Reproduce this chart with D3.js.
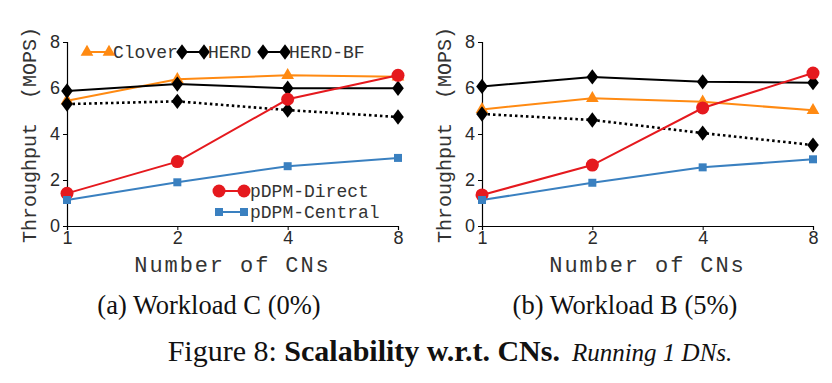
<!DOCTYPE html>
<html>
<head>
<meta charset="utf-8">
<script src="https://cdnjs.cloudflare.com/ajax/libs/d3/7.8.5/d3.min.js"></script>
<style>
  body { margin: 0; background: #fff; }
  svg { display: block; }
  .tick text { font-family: "Liberation Sans", Arial, sans-serif; font-size: 18px; fill: #2a2a2a; }
  .mono { font-family: "Liberation Mono", "Courier New", monospace; fill: #333; white-space: pre; }
  .serif { font-family: "Liberation Serif", "Times New Roman", serif; fill: #111; }
</style>
</head>
<body>
<script>
// x categories: number of CNs
var cns = [1, 2, 4, 8];
var yTicks = [0, 2, 4, 6, 8];

// Workload C (0%)
var cClover = [5.45, 6.38, 6.55, 6.49];
var cHerd = [5.87, 6.17, 5.99, 5.99];
var cHerdBf = [5.30, 5.42, 5.04, 4.74];
var cDirect = [1.42, 2.80, 5.51, 6.55];
var cCentral = [1.13, 1.90, 2.60, 2.96];

// Workload B (5%)
var bClover = [5.07, 5.55, 5.40, 5.03];
var bHerd = [6.07, 6.48, 6.27, 6.23];
var bHerdBf = [4.87, 4.61, 4.04, 3.52];
var bDirect = [1.35, 2.65, 5.13, 6.65];
var bCentral = [1.13, 1.88, 2.55, 2.90];

var orange = '#ff8a12', red = '#e5191e', blue = '#3a80c0', black = '#000';

var svg = d3.select('body').append('svg')
    .attr('width', 832)
    .attr('height', 383);

function marker(g, shape, color, x, y) {
    if (shape === 'circle') {
        g.append('circle').attr('cx', x).attr('cy', y).attr('r', 6.5).attr('fill', color);
    } else {
        var sym = shape === 'triangle' ? d3.symbolTriangle : (shape === 'diamond' ? d3.symbolDiamond : d3.symbolSquare);
        var size = shape === 'triangle' ? 70 : (shape === 'diamond' ? 75 : 64);
        g.append('path')
            .attr('d', d3.symbol().type(sym).size(size))
            .attr('transform', shape === 'diamond'
                ? 'translate(' + x + ',' + y + ') scale(1.25,0.95)'
                : 'translate(' + x + ',' + y + ')')
            .attr('fill', color);
    }
}

function panel(x0, x1, series, caption, captionX, showLegend) {
    var x = d3.scalePoint().domain(cns).range([x0, x1]);
    var y = d3.scaleLinear().domain([0, 8]).range([226, 42]);
    var g = svg.append('g');

    g.append('g')
        .attr('transform', 'translate(' + x0 + ',0)')
        .call(d3.axisLeft(y).tickValues(yTicks).tickSize(4).tickPadding(3))
        .call(function (a) { a.select('.domain').attr('stroke', '#000').attr('stroke-width', 1.2); })
        .call(function (a) { a.selectAll('.tick line').attr('stroke', '#000'); });

    g.append('g')
        .attr('transform', 'translate(0,226)')
        .call(d3.axisBottom(x).tickSize(4).tickPadding(3))
        .call(function (a) { a.select('.domain').attr('stroke', '#000').attr('stroke-width', 1.2); })
        .call(function (a) { a.selectAll('.tick line').attr('stroke', '#000'); })
        .call(function (a) { a.selectAll('.tick text').attr('dy', '0.6em'); });

    var line = d3.line()
        .x(function (d, i) { return x(cns[i]); })
        .y(function (d) { return y(d); });

    series.forEach(function (s) {
        g.append('path')
            .datum(s.values)
            .attr('d', line)
            .attr('fill', 'none')
            .attr('stroke', s.color)
            .attr('stroke-width', s.dash ? 2.6 : 2)
            .attr('stroke-dasharray', s.dash ? '2.5,3' : null);
        s.values.forEach(function (v, i) {
            marker(g, s.shape, s.color, x(cns[i]), y(v));
        });
    });

    // axis titles
    g.append('text')
        .attr('class', 'mono')
        .attr('xml:space', 'preserve')
        .attr('transform', 'translate(' + (x0 - 38) + ',135) rotate(-90)')
        .attr('text-anchor', 'middle')
        .attr('dy', '0.35em')
        .style('font-size', '20px')
        .text('Throughput  (MOPS)');

    g.append('text')
        .attr('class', 'mono')
        .attr('x', (x0 + x1) / 2)
        .attr('y', 272)
        .attr('text-anchor', 'middle')
        .style('font-size', '22px')
        .style('letter-spacing', '1.9px')
        .text('Number of CNs');

    g.append('text')
        .attr('class', 'serif')
        .attr('x', captionX)
        .attr('y', 314)
        .attr('text-anchor', 'middle')
        .style('font-size', '26.5px')
        .text(caption);

    if (showLegend) {
        var top = [series[0], series[1], series[2]];
        var lx = [87, 182, 263];
        top.forEach(function (s, i) {
            var lg = g.append('g');
            lg.append('line').attr('x1', lx[i]).attr('x2', lx[i] + 22).attr('y1', 52).attr('y2', 52)
                .attr('stroke', s.color).attr('stroke-width', 2);
            marker(lg, s.shape, s.color, lx[i], 52);
            marker(lg, s.shape, s.color, lx[i] + 22, 52);
            lg.append('text').attr('class', 'mono').attr('x', lx[i] + 26).attr('y', 58)
                .style('font-size', '18px').text(s.name);
        });
        var bottom = [series[3], series[4]];
        bottom.forEach(function (s, i) {
            var yy = 191 + i * 21;
            var lg = g.append('g');
            lg.append('line').attr('x1', 219).attr('x2', 244).attr('y1', yy).attr('y2', yy)
                .attr('stroke', s.color).attr('stroke-width', 2);
            marker(lg, s.shape, s.color, 219, yy);
            marker(lg, s.shape, s.color, 244, yy);
            lg.append('text').attr('class', 'mono').attr('x', 250).attr('y', yy + 6)
                .style('font-size', '18px').text(s.name);
        });
    }
}

function seriesFor(clover, herd, herdBf, direct, central) {
    return [
        { name: 'Clover', values: clover, color: orange, shape: 'triangle' },
        { name: 'HERD', values: herd, color: black, shape: 'diamond' },
        { name: 'HERD-BF', values: herdBf, color: black, shape: 'diamond', dash: true },
        { name: 'pDPM-Direct', values: direct, color: red, shape: 'circle' },
        { name: 'pDPM-Central', values: central, color: blue, shape: 'square' }
    ];
}

panel(67, 398, seriesFor(cClover, cHerd, cHerdBf, cDirect, cCentral), '(a) Workload C (0%)', 209, true);
panel(482, 813, seriesFor(bClover, bHerd, bHerdBf, bDirect, bCentral), '(b) Workload B (5%)', 625, false);

// figure caption
var cap = svg.append('text')
    .attr('class', 'serif')
    .attr('x', 450)
    .attr('y', 361)
    .attr('text-anchor', 'middle')
    .style('font-size', '30px');
cap.append('tspan').text('Figure 8: ');
cap.append('tspan').style('font-weight', 'bold').text('Scalability w.r.t. CNs.');
cap.append('tspan').style('font-style', 'italic').style('font-size', '25px').attr('dx', 12).text('Running 1 DNs.');
</script>
</body>
</html>
